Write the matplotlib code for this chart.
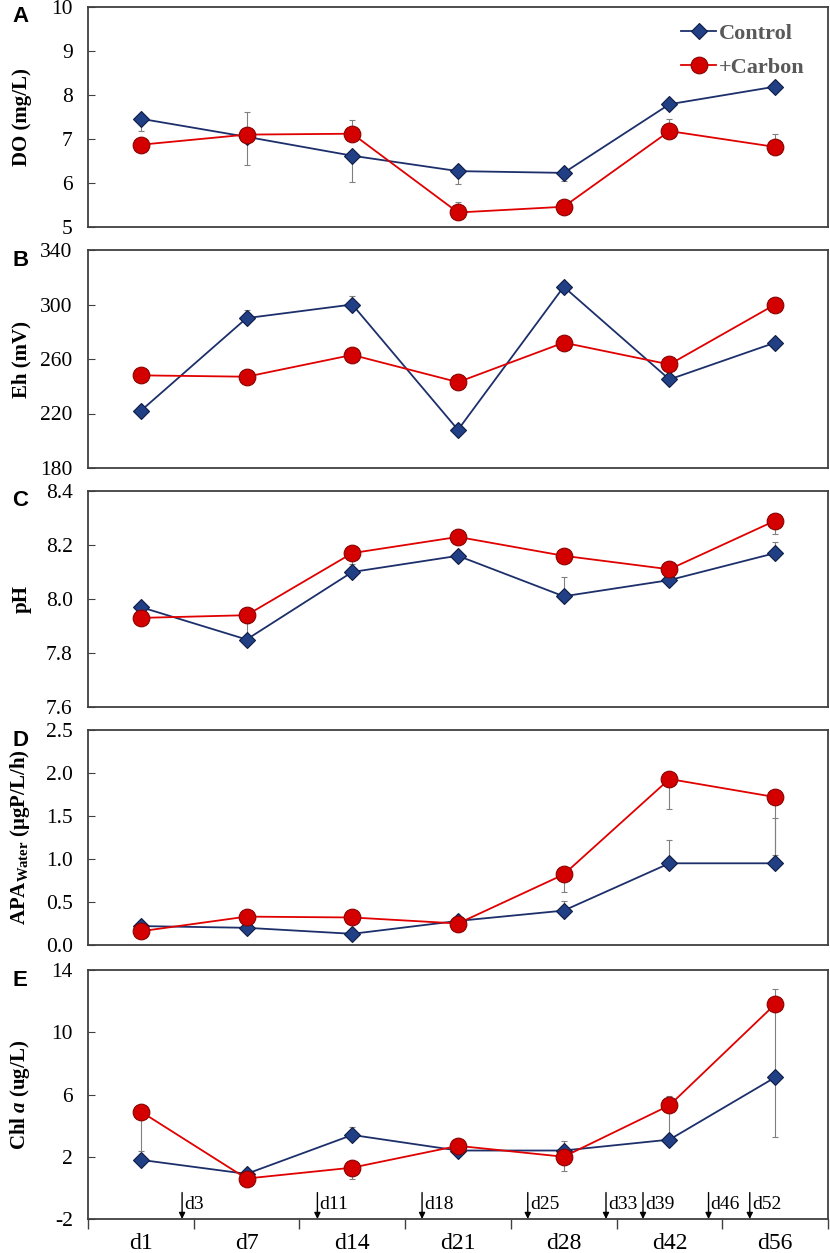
import numpy as np
import matplotlib
matplotlib.use("Agg")
import matplotlib.pyplot as plt

# sampling days (categories)
days = ["d1", "d7", "d14", "d21", "d28", "d42", "d56"]

# A: dissolved oxygen (mg/L)
do_control = [7.46, 7.05, 6.62, 6.27, 6.23, 7.79, 8.19]
do_carbon = [6.87, 7.10, 7.12, 5.33, 5.46, 7.18, 6.82]
do_control_lo = [0.27, 0.63, 0.60, 0.30, 0.18, 0.0, 0.0]
do_control_hi = [0, 0, 0, 0, 0, 0, 0]
do_carbon_lo = [0, 0, 0, 0, 0, 0, 0]
do_carbon_hi = [0.0, 0.52, 0.32, 0.24, 0.0, 0.27, 0.30]

# B: redox potential (mV)
eh_control = [222, 290, 300, 208, 313, 245, 272]
eh_carbon = [248, 247, 263, 243, 272, 256, 300]
eh_control_lo = [0, 0, 0, 0, 0, 0, 0]
eh_control_hi = [0, 6, 6, 0, 0, 0, 0]
eh_carbon_lo = [0, 0, 0, 0, 0, 0, 0]
eh_carbon_hi = [0, 0, 0, 0, 0, 0, 0]

# C: pH
ph_control = [7.97, 7.85, 8.10, 8.16, 8.01, 8.07, 8.17]
ph_carbon = [7.93, 7.94, 8.17, 8.23, 8.16, 8.11, 8.29]
ph_control_lo = [0, 0, 0, 0, 0, 0, 0]
ph_control_hi = [0.0, 0.06, 0.02, 0.0, 0.07, 0.0, 0.04]
ph_carbon_lo = [0.0, 0.0, 0.04, 0.0, 0.0, 0.0, 0.05]
ph_carbon_hi = [0, 0, 0, 0, 0, 0, 0]

# D: alkaline phosphatase activity in water (ugP/L/h)
apa_control = [0.22, 0.20, 0.13, 0.28, 0.40, 0.95, 0.95]
apa_carbon = [0.16, 0.33, 0.32, 0.25, 0.82, 1.93, 1.72]
apa_control_lo = [0, 0, 0, 0, 0, 0, 0]
apa_control_hi = [0.0, 0.0, 0.0, 0.0, 0.11, 0.27, 0.53]
apa_carbon_lo = [0.0, 0.0, 0.0, 0.0, 0.20, 0.35, 0.67]
apa_carbon_hi = [0, 0, 0, 0, 0, 0, 0]

# E: chlorophyll a (ug/L)
chl_control = [1.8, 0.9, 3.4, 2.4, 2.4, 3.1, 7.1]
chl_carbon = [4.9, 0.6, 1.3, 2.7, 2.0, 5.3, 11.8]
chl_control_lo = [0.0, 0.0, 0.0, 0.0, 0.0, 0.0, 3.8]
chl_control_hi = [0.0, 0.0, 0.5, 0.0, 0.6, 0.0, 0.0]
chl_carbon_lo = [2.5, 0.0, 0.7, 0.0, 0.9, 2.0, 4.7]
chl_carbon_hi = [0.0, 0.0, 0.0, 0.0, 0.0, 0.6, 1.0]

# carbon addition events (position on category axis)
add_labels = ["d3", "d11", "d18", "d25", "d33", "d39", "d46", "d52"]
add_pos = [0.39, 1.67, 2.66, 3.66, 4.40, 4.75, 5.37, 5.76]

plt.rcParams["font.family"] = ["Liberation Serif", "DejaVu Serif"]
plt.rcParams["mathtext.fontset"] = "custom"
plt.rcParams["mathtext.rm"] = "Liberation Serif"
plt.rcParams["mathtext.bf"] = "Liberation Serif:bold"
plt.rcParams["mathtext.it"] = "Liberation Serif:italic"
plt.rcParams["mathtext.bfit"] = "Liberation Serif:italic:bold"

W, H = 830, 1253
fig = plt.figure(figsize=(W / 100, H / 100), dpi=100)

NAVY = "#1c2f6b"
NAVY_M = "#213f85"
RED = "#e00000"
RED_M = "#d40000"
SPINE = "#404040"
ERR = "#808080"

panels = [
    ("A", "DO (mg/L)", do_control, do_carbon,
     (do_control_lo, do_control_hi), (do_carbon_lo, do_carbon_hi),
     (5, 10), [5, 6, 7, 8, 9, 10], "{:.0f}", (7, 227)),
    ("B", "Eh (mV)", eh_control, eh_carbon,
     (eh_control_lo, eh_control_hi), (eh_carbon_lo, eh_carbon_hi),
     (180, 340), [180, 220, 260, 300, 340], "{:.0f}", (250, 468)),
    ("C", "pH", ph_control, ph_carbon,
     (ph_control_lo, ph_control_hi), (ph_carbon_lo, ph_carbon_hi),
     (7.6, 8.4), [7.6, 7.8, 8.0, 8.2, 8.4], "{:.1f}", (491, 707)),
    ("D", r"APA$_{\mathbf{Water}}$ (μgP/L/h)", apa_control, apa_carbon,
     (apa_control_lo, apa_control_hi), (apa_carbon_lo, apa_carbon_hi),
     (0, 2.5), [0, 0.5, 1.0, 1.5, 2.0, 2.5], "{:.1f}", (730, 945)),
    ("E", r"Chl $\mathbfit{a}$ (ug/L)", chl_control, chl_carbon,
     (chl_control_lo, chl_control_hi), (chl_carbon_lo, chl_carbon_hi),
     (-2, 14), [-2, 2, 6, 10, 14], "{:.0f}", (970, 1219)),
]

x = np.arange(len(days))
left_px, right_px = 88, 828

for letter, ylab, ctrl, carb, cerr, berr, ylim, yticks, fmt, (top, bot) in panels:
    ax = fig.add_axes([left_px / W, 1 - bot / H, (right_px - left_px) / W, (bot - top) / H])

    # error bars behind the markers
    ax.errorbar(x, ctrl, yerr=np.array(cerr), fmt="none", ecolor=ERR,
                elinewidth=0.8, capsize=2, capthick=0.8, zorder=1)
    ax.errorbar(x, carb, yerr=np.array(berr), fmt="none", ecolor=ERR,
                elinewidth=0.8, capsize=2, capthick=0.8, zorder=1)

    ax.plot(x, ctrl, color=NAVY, lw=1.3, marker="D", markersize=8.5,
            markerfacecolor=NAVY_M, markeredgecolor="#0f1c45", markeredgewidth=0.8,
            label="Control", zorder=3)
    ax.plot(x, carb, color=RED, lw=1.3, marker="o", markersize=12,
            markerfacecolor=RED_M, markeredgecolor="#8a0000", markeredgewidth=0.8,
            label="+Carbon", zorder=4)

    ax.set_xlim(-0.5, len(days) - 0.5)
    ax.set_ylim(*ylim)
    ax.set_yticks(yticks)
    ax.set_yticklabels([fmt.format(v) for v in yticks])
    ax.tick_params(axis="y", direction="in", length=5, width=0.8, colors=SPINE,
                   labelcolor="black", labelsize=15.5, pad=11)

    for s in ax.spines.values():
        s.set_color(SPINE)
        s.set_linewidth(1.3)

    ax.set_ylabel(ylab, fontsize=15, fontweight="bold")
    ax.yaxis.set_label_coords(-0.076, 0.5)

    fig.text(12 / W, 1 - (top + 10) / H, letter, fontsize=16, fontweight="bold",
             family=["Liberation Sans", "DejaVu Sans"], ha="left", va="center")

    if letter == "E":
        ax.set_xticks(np.arange(-0.5, len(days)))
        ax.set_xticklabels([])
        ax.set_xticks(x, minor=True)
        ax.set_xticklabels(days, minor=True)
        ax.tick_params(axis="x", which="major", direction="out", length=7,
                       width=1.0, colors=SPINE)
        ax.tick_params(axis="x", which="minor", length=0, labelsize=17, pad=10)
        for lab, pos in zip(add_labels, add_pos):
            ax.annotate("", xy=(pos, ylim[0]), xytext=(pos, -0.3),
                        arrowprops=dict(arrowstyle="-|>", color="black", lw=1.0,
                                        mutation_scale=9, shrinkA=0, shrinkB=0))
            ax.text(pos + 0.02, -1.1, lab, fontsize=14, ha="left", va="center")
    else:
        ax.set_xticks([])

    if letter == "A":
        leg = ax.legend(loc="upper right", bbox_to_anchor=(0.995, 1.015), frameon=False,
                        handlelength=1.6, handletextpad=0.1, labelspacing=0.6,
                        prop={"family": "Liberation Serif", "weight": "bold", "size": 16})
        for t in leg.get_texts():
            t.set_color("#595959")

fig.savefig("out.png", dpi=100)
